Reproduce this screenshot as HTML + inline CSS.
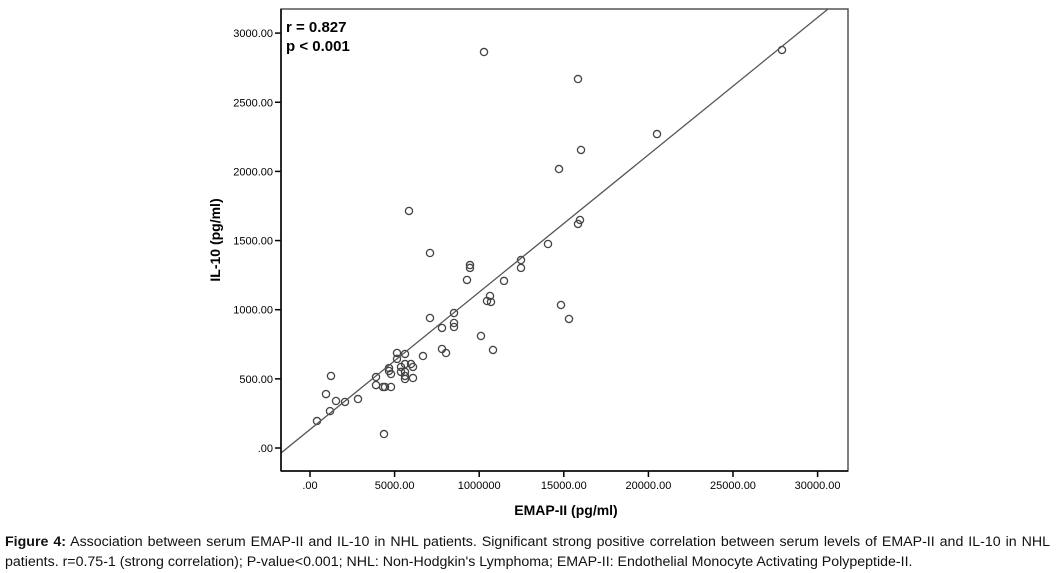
<!DOCTYPE html>
<html><head><meta charset="utf-8"><style>
body{margin:0;background:#fff;width:1056px;height:573px;overflow:hidden;font-family:"Liberation Sans",Arial,sans-serif}
#cap{position:absolute;left:5px;top:532px;width:1045px;font-size:14.2px;line-height:20px;color:#111}
#cap .l1{text-align:justify;text-align-last:justify;white-space:nowrap}
#cap .l2{text-align:left;white-space:nowrap}
</style></head><body>
<svg id="chart" width="1056" height="530" style="position:absolute;left:0;top:0;font-family:'Liberation Sans',Arial,sans-serif">
<defs><clipPath id="pc"><rect x="281" y="9" width="567" height="462"/></clipPath></defs>
<g id="yt"></g>
<g id="xt"></g>
<g id="pts"></g>
<g id="fit" clip-path="url(#pc)"></g>
<rect x="281" y="9" width="567" height="462" fill="none" stroke="#555" stroke-width="1.5"/>
<line x1="281" y1="9" x2="281" y2="471" stroke="#000" stroke-width="1.5"/>
<line x1="281" y1="471" x2="848" y2="471" stroke="#000" stroke-width="1.5"/>
<text x="286" y="32" font-size="15" font-weight="bold">r = 0.827</text>
<text x="286" y="51" font-size="15" font-weight="bold">p &lt; 0.001</text>
<text transform="translate(220,240) rotate(-90)" text-anchor="middle" font-size="14" font-weight="bold">IL-10 (pg/ml)</text>
<text x="566" y="515" text-anchor="middle" font-size="14" font-weight="bold">EMAP-II (pg/ml)</text>
</svg>
<div id="cap"><div class="l1"><b>Figure 4:</b> Association between serum EMAP-II and IL-10 in NHL patients. Significant strong positive correlation between serum levels of EMAP-II and IL-10 in NHL</div><div class="l2">patients. r=0.75-1 (strong correlation); P-value&lt;0.001; NHL: Non-Hodgkin's Lymphoma; EMAP-II: Endothelial Monocyte Activating Polypeptide-II.</div></div>
<script>
const xTicks=[0,5000,10000,15000,20000,25000,30000];
const xTickLabels=[".00","5000.00","1000000","15000.00","20000.00","25000.00","30000.00"];
const yTicks=[0,500,1000,1500,2000,2500,3000];
const yTickLabels=[".00","500.00","1000.00","1500.00","2000.00","2500.00","3000.00"];
const emapValues=[10284,15840,27896,20508,16017,14716,5851,15957,15840,14066,7092,9456,9456,12470,12470,9279,11466,10638,10461,10697,14834,8511,7092,15307,8511,8511,10106,7801,10816,7801,8038,6678,5142,5615,5142,5615,5969,6087,5378,4669,5615,5615,5615,6087,5378,4669,4787,1241,3901,3901,4314,4432,4787,946,1537,2069,2837,1182,414,4373];
const il10Values=[2863,2668,2878,2270,2155,2017,1714,1649,1620,1475,1410,1323,1302,1359,1302,1215,1208,1099,1063,1056,1034,976,940,933,904,875,810,868,709,716,687,665,687,680,644,607,607,586,586,578,550,521,499,506,550,557,535,521,513,455,441,441,441,390,340,333,354,267,195,101];
const fitIntercept=134, fitSlope=0.0993;
const NS="http://www.w3.org/2000/svg";
const X=v=>310+v*84.6/5000, Y=v=>448-v*0.1383;
function mk(t,a,p){const e=document.createElementNS(NS,t);for(const k in a)e.setAttribute(k,a[k]);p.appendChild(e);return e;}
const yt=document.getElementById('yt'),xt=document.getElementById('xt');
yTicks.forEach((v,i)=>{
 const l=mk('line',{x1:275,x2:281,y1:Y(v),y2:Y(v),stroke:'#000','stroke-width':1.5},yt);
 
 
 const t=mk('text',{x:273,y:Y(v)+4,'text-anchor':'end','font-size':11},yt);t.textContent=yTickLabels[i];
 
 
});
xTicks.forEach((v,i)=>{
 const l=mk('line',{x1:X(v),x2:X(v),y1:471,y2:477,stroke:'#000','stroke-width':1.5},xt);
 
 
 const t=mk('text',{x:X(v),y:489,'text-anchor':'middle','font-size':11},xt);t.textContent=xTickLabels[i];
 
 
});
const pts=document.getElementById('pts');
emapValues.forEach((v,i)=>{
 const c=mk('circle',{cx:X(v),cy:Y(il10Values[i]),r:3.6,fill:'none',stroke:'#444','stroke-width':1.3},pts);
 
 
});
const x0=-3000,x1=33000;
const fl=mk('line',{x1:X(x0),y1:Y(fitIntercept+fitSlope*x0),x2:X(x1),y2:Y(fitIntercept+fitSlope*x1),stroke:'#555','stroke-width':1.3},document.getElementById('fit'));


</script>
</body></html>
